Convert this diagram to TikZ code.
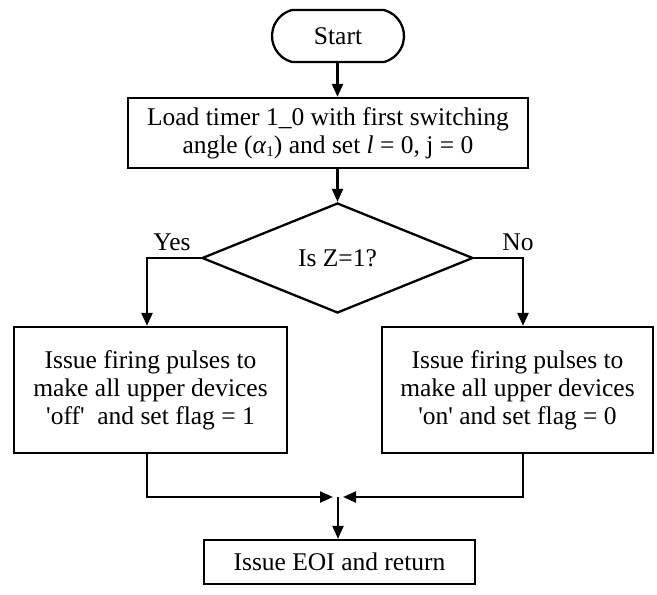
\documentclass[tikz,border=0pt]{standalone}
\usepackage{fontspec}
\setmainfont{Liberation Serif}
\usetikzlibrary{arrows.meta,shapes.geometric,shapes.misc}
\begin{document}
\begin{tikzpicture}[x=1pt,y=-1pt,
  every node/.style={font=\fontsize{25.5}{28}\selectfont},
  box/.style={draw,line width=2.3pt,rectangle,inner sep=0pt,align=center},
  term/.style={draw,line width=2.3pt,rounded rectangle,inner sep=0pt,
    rounded rectangle arc length=150,
    minimum width=132pt,minimum height=52pt},
  dec/.style={draw,line width=2.3pt,diamond,inner sep=0pt,
    minimum width=271pt,minimum height=110pt},
  arr/.style={line width=2.3pt,-{Triangle[length=13pt,width=11pt]}}]
\useasboundingbox (0,0) rectangle (657,595);

% flowchart blocks
\node[term] (start) at (338,36) {Start};
\node[box,minimum width=400pt,minimum height=70pt] (load) at (328,133)
  {Load timer 1\_0 with first switching\\angle (\textit{α}\raisebox{-0.25ex}{\fontsize{15}{15}\selectfont 1}) and set \textit{l} = 0, j = 0};
\node[dec] (dz) at (337.5,258) {Is Z=1?};
\node[box,minimum width=273pt,minimum height=126pt] (off) at (150.5,390)
  {Issue firing pulses to\\make all upper devices\\\textquotesingle off\textquotesingle\ \ and set flag = 1};
\node[box,minimum width=271pt,minimum height=126pt] (on) at (517.5,390)
  {Issue firing pulses to\\make all upper devices\\\textquotesingle on\textquotesingle\ and set flag = 0};
\node[box,minimum width=271pt,minimum height=44pt] (eoi) at (339.5,562)
  {Issue EOI and return};

% branch labels
\node (yes) at (172,242) {Yes};
\node (no) at (518,242) {No};

% routing points
\coordinate (xl) at (147,0);
\coordinate (xr) at (523,0);
\coordinate (jl) at (333,497);
\coordinate (jr) at (343,497);
\coordinate (j) at (338,497);

% connectors
\draw[arr] (start.south -| dz.north) -- (load.north -| dz.north);
\draw[arr] (load.south -| dz.north) -- (dz.north);
\draw[arr] (dz.west) -| (off.north -| xl);
\draw[arr] (dz.east) -| (on.north -| xr);
\draw[arr] (off.south -| xl) |- (jl);
\draw[arr] (on.south -| xr) |- (jr);
\draw[arr] (j) -- (eoi.north -| j);
\end{tikzpicture}
\end{document}
